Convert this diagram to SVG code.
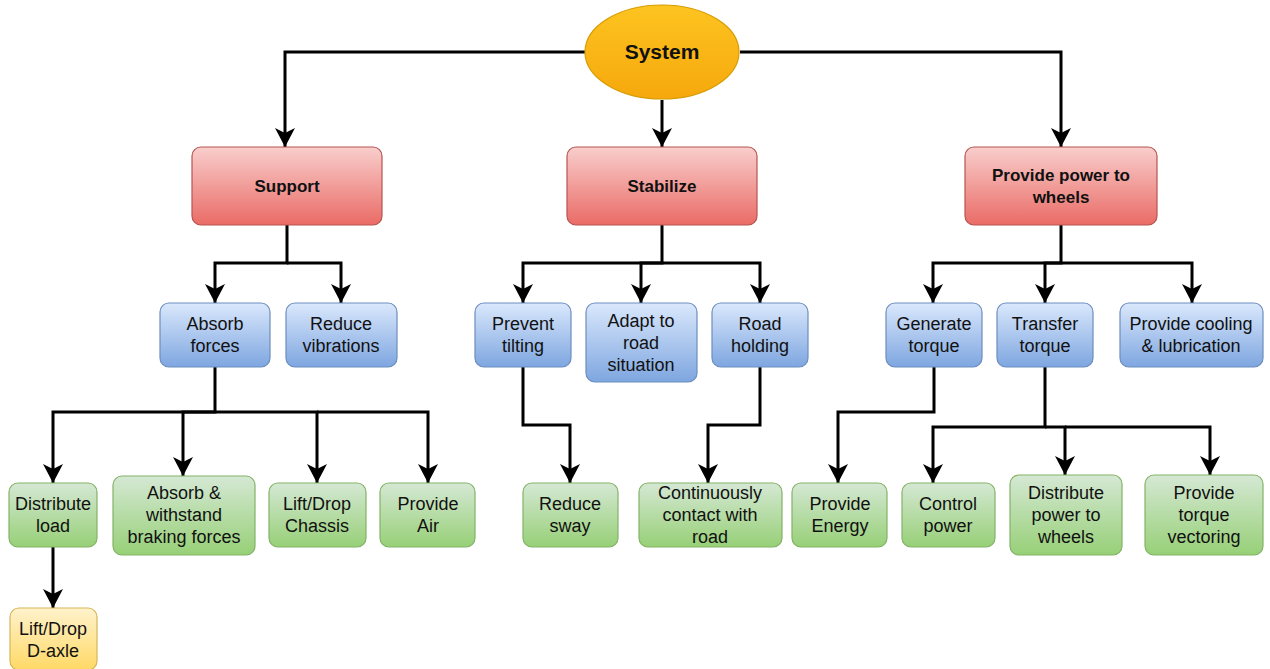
<svg xmlns="http://www.w3.org/2000/svg" width="1270" height="669" viewBox="0 0 1270 669">
  <defs>
    <linearGradient id="gRed" x1="0" y1="0" x2="0" y2="1">
      <stop offset="0" stop-color="#f8cecc"/>
      <stop offset="1" stop-color="#ea6b66"/>
    </linearGradient>
    <linearGradient id="gBlue" x1="0" y1="0" x2="0" y2="1">
      <stop offset="0" stop-color="#dae8fc"/>
      <stop offset="1" stop-color="#7ea6e0"/>
    </linearGradient>
    <linearGradient id="gGreen" x1="0" y1="0" x2="0" y2="1">
      <stop offset="0" stop-color="#d5e8d4"/>
      <stop offset="1" stop-color="#97d077"/>
    </linearGradient>
    <linearGradient id="gYellow" x1="0" y1="0" x2="0" y2="1">
      <stop offset="0" stop-color="#fff2cc"/>
      <stop offset="1" stop-color="#ffd966"/>
    </linearGradient>
    <linearGradient id="gOrange" x1="0" y1="0" x2="0" y2="1">
      <stop offset="0" stop-color="#fdc420"/>
      <stop offset="1" stop-color="#f6a80c"/>
    </linearGradient>
    <marker id="arrow" markerUnits="userSpaceOnUse" markerWidth="24" markerHeight="24" viewBox="-1 -12 22 24" refX="19" refY="0" orient="auto">
      <path d="M0,-10 L19,0 L0,10 L5,0 Z" fill="#000"/>
    </marker>
  </defs>
  <style>
    .red { fill: url(#gRed); stroke: #b85450; stroke-width: 1.2; }
    .blue { fill: url(#gBlue); stroke: #6c8ebf; stroke-width: 1.2; }
    .green { fill: url(#gGreen); stroke: #82b366; stroke-width: 1.2; }
    .yellow { fill: url(#gYellow); stroke: #d6b656; stroke-width: 1.2; }
    .orange { fill: url(#gOrange); stroke: #d79b00; stroke-width: 1.2; }
    text { font-family: "Liberation Sans", Arial, sans-serif; font-size: 18px; fill: #111; text-anchor: middle; }
    .bold { font-weight: bold; font-size: 17px; }
    .root { font-weight: bold; font-size: 21px; }
    .edge { fill: none; stroke: #000; stroke-width: 3; marker-end: url(#arrow); }
  </style>

  <!-- connectors -->
  <g id="connectors">
    <path class="edge" d="M585,52 H285 V147"/>
    <path class="edge" d="M662,100 V147"/>
    <path class="edge" d="M740,52 H1061 V147"/>

    <path class="edge" d="M287,225 V263 H215 V303"/>
    <path class="edge" d="M287,263 H341 V303"/>

    <path class="edge" d="M215,367 V412 H53 V483"/>
    <path class="edge" d="M215,412 H183 V476"/>
    <path class="edge" d="M215,412 H317 V483"/>
    <path class="edge" d="M317,412 H428 V483"/>
    <path class="edge" d="M53,547 V608"/>

    <path class="edge" d="M662,225 V263 H523 V303"/>
    <path class="edge" d="M662,263 H641 V303"/>
    <path class="edge" d="M662,263 H760 V303"/>
    <path class="edge" d="M523,367 V425 H570 V483"/>
    <path class="edge" d="M760,367 V425 H708 V483"/>

    <path class="edge" d="M1061,225 V263 H933 V303"/>
    <path class="edge" d="M1061,263 H1045 V303"/>
    <path class="edge" d="M1061,263 H1192 V303"/>
    <path class="edge" d="M934,367 V412 H838 V483"/>
    <path class="edge" d="M1045,367 V427 H933 V483"/>
    <path class="edge" d="M1045,427 H1065 V475"/>
    <path class="edge" d="M1065,427 H1210 V475"/>
  </g>

  <!-- root -->
  <g id="system">
    <ellipse class="orange" cx="662" cy="52" rx="77" ry="47"/>
    <text class="root" x="662" y="59">System</text>
  </g>

  <!-- level 1 -->
  <g id="support">
    <rect class="red" x="192" y="147" width="190" height="78" rx="9"/>
    <text class="bold" x="287" y="192">Support</text>
  </g>
  <g id="stabilize">
    <rect class="red" x="567" y="147" width="190" height="78" rx="9"/>
    <text class="bold" x="662" y="192">Stabilize</text>
  </g>
  <g id="provide-power">
    <rect class="red" x="965" y="147" width="192" height="78" rx="9"/>
    <text class="bold" x="1061" y="181">Provide power to</text>
    <text class="bold" x="1061" y="203">wheels</text>
  </g>

  <!-- level 2 -->
  <g id="absorb-forces">
    <rect class="blue" x="160" y="303" width="110" height="64" rx="9"/>
    <text x="215" y="330">Absorb</text>
    <text x="215" y="352">forces</text>
  </g>
  <g id="reduce-vibrations">
    <rect class="blue" x="286" y="303" width="111" height="64" rx="9"/>
    <text x="341" y="330">Reduce</text>
    <text x="341" y="352">vibrations</text>
  </g>
  <g id="prevent-tilting">
    <rect class="blue" x="475" y="303" width="96" height="64" rx="9"/>
    <text x="523" y="330">Prevent</text>
    <text x="523" y="352">tilting</text>
  </g>
  <g id="adapt-road">
    <rect class="blue" x="586" y="303" width="111" height="79" rx="9"/>
    <text x="641" y="327">Adapt to</text>
    <text x="641" y="349">road</text>
    <text x="641" y="371">situation</text>
  </g>
  <g id="road-holding">
    <rect class="blue" x="712" y="303" width="96" height="64" rx="9"/>
    <text x="760" y="330">Road</text>
    <text x="760" y="352">holding</text>
  </g>
  <g id="generate-torque">
    <rect class="blue" x="886" y="303" width="96" height="64" rx="9"/>
    <text x="934" y="330">Generate</text>
    <text x="934" y="352">torque</text>
  </g>
  <g id="transfer-torque">
    <rect class="blue" x="997" y="303" width="96" height="64" rx="9"/>
    <text x="1045" y="330">Transfer</text>
    <text x="1045" y="352">torque</text>
  </g>
  <g id="cooling">
    <rect class="blue" x="1120" y="303" width="143" height="64" rx="9"/>
    <text x="1191" y="330">Provide cooling</text>
    <text x="1191" y="352">&amp; lubrication</text>
  </g>

  <!-- level 3 -->
  <g id="distribute-load">
    <rect class="green" x="9" y="483" width="88" height="64" rx="9"/>
    <text x="53" y="510">Distribute</text>
    <text x="53" y="532">load</text>
  </g>
  <g id="absorb-braking">
    <rect class="green" x="113" y="476" width="142" height="79" rx="9"/>
    <text x="184" y="499">Absorb &amp;</text>
    <text x="184" y="521">withstand</text>
    <text x="184" y="543">braking forces</text>
  </g>
  <g id="lift-chassis">
    <rect class="green" x="269" y="483" width="97" height="64" rx="9"/>
    <text x="317" y="510">Lift/Drop</text>
    <text x="317" y="532">Chassis</text>
  </g>
  <g id="provide-air">
    <rect class="green" x="380" y="483" width="95" height="64" rx="9"/>
    <text x="428" y="510">Provide</text>
    <text x="428" y="532">Air</text>
  </g>
  <g id="reduce-sway">
    <rect class="green" x="523" y="483" width="95" height="64" rx="9"/>
    <text x="570" y="510">Reduce</text>
    <text x="570" y="532">sway</text>
  </g>
  <g id="continuous-contact">
    <rect class="green" x="639" y="483" width="143" height="64" rx="9"/>
    <text x="710" y="499">Continuously</text>
    <text x="710" y="521">contact with</text>
    <text x="710" y="543">road</text>
  </g>
  <g id="provide-energy">
    <rect class="green" x="792" y="483" width="95" height="64" rx="9"/>
    <text x="840" y="510">Provide</text>
    <text x="840" y="532">Energy</text>
  </g>
  <g id="control-power">
    <rect class="green" x="902" y="483" width="93" height="64" rx="9"/>
    <text x="948" y="510">Control</text>
    <text x="948" y="532">power</text>
  </g>
  <g id="distribute-power">
    <rect class="green" x="1010" y="475" width="112" height="80" rx="9"/>
    <text x="1066" y="499">Distribute</text>
    <text x="1066" y="521">power to</text>
    <text x="1066" y="543">wheels</text>
  </g>
  <g id="torque-vectoring">
    <rect class="green" x="1145" y="475" width="118" height="80" rx="9"/>
    <text x="1204" y="499">Provide</text>
    <text x="1204" y="521">torque</text>
    <text x="1204" y="543">vectoring</text>
  </g>

  <!-- level 4 -->
  <g id="lift-daxle">
    <rect class="yellow" x="10" y="608" width="87" height="62" rx="9"/>
    <text x="53" y="635">Lift/Drop</text>
    <text x="53" y="657">D-axle</text>
  </g>
</svg>
